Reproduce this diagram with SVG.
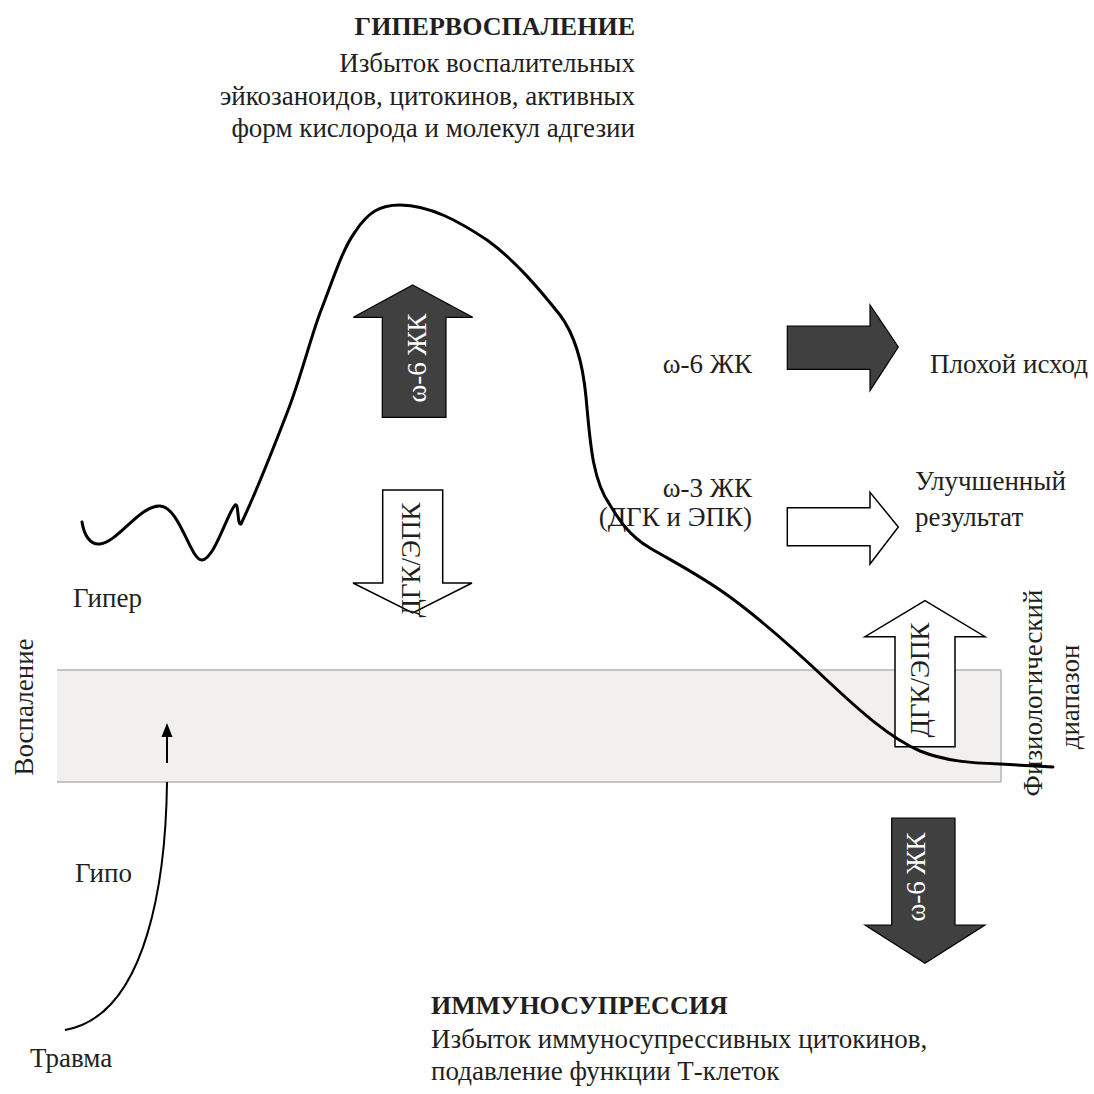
<svg xmlns="http://www.w3.org/2000/svg" width="1094" height="1094" viewBox="0 0 1094 1094">
<style>
.t{font-family:"Liberation Serif","Times New Roman",serif;font-size:27px;fill:#231f20}
.b{font-family:"Liberation Serif","Times New Roman",serif;font-size:26px;font-weight:bold;fill:#231f20}
.w{font-family:"Liberation Serif","Times New Roman",serif;font-size:27px;fill:#ffffff}
.dark{fill:#404040;stroke:#000;stroke-width:1.2}
.light{fill:#ffffff;stroke:#000;stroke-width:1.5}
.curve{fill:none;stroke:#000;stroke-width:3;stroke-linecap:round;stroke-linejoin:round}
.band{stroke:#b5b5b5;stroke-width:1.5}
</style>
<rect width="1094" height="1094" fill="#fff"/>
<g id="band">
<rect x="57" y="670" width="944" height="112" fill="#f1f0ef"/>
<line class="band" x1="57" y1="670" x2="1001" y2="670"/>
<line class="band" x1="57" y1="782" x2="1001" y2="782"/>
<line class="band" x1="1001" y1="670" x2="1001" y2="782"/>
</g>
<g id="title-hyper">
<text class="b" x="635" y="35" text-anchor="end">ГИПЕРВОСПАЛЕНИЕ</text>
<text class="t" x="635" y="72" text-anchor="end">Избыток воспалительных</text>
<text class="t" x="635" y="105" text-anchor="end">эйкозаноидов, цитокинов, активных</text>
<text class="t" x="635" y="137" text-anchor="end">форм кислорода и молекул адгезии</text>
</g>
<g id="title-immuno">
<text class="b" x="431" y="1014">ИММУНОСУПРЕССИЯ</text>
<text class="t" x="431" y="1048">Избыток иммуносупрессивных цитокинов,</text>
<text class="t" x="431" y="1080">подавление функции Т-клеток</text>
</g>
<g id="labels">
<text class="t" x="73" y="607">Гипер</text>
<text class="t" x="75" y="882">Гипо</text>
<text class="t" x="30" y="1067">Травма</text>
<text class="t" transform="translate(33,707) rotate(-90)" text-anchor="middle">Воспаление</text>
<text class="t" transform="translate(1042,693) rotate(-90)" text-anchor="middle">Физиологический</text>
<text class="t" transform="translate(1079,697) rotate(-90)" text-anchor="middle">диапазон</text>
</g>
<g id="omega6-up">
<path class="dark" d="M412.7,285 L472.7,317.3 L446,317.3 L446,417.3 L382.3,417.3 L382.3,317.3 L353.3,317.3 Z"/>
<text class="w" transform="translate(426,358) rotate(-90)" text-anchor="middle">ω-6 ЖК</text>
</g>
<g id="dha-down">
<path class="light" d="M382.7,490 L442.7,490 L442.7,583 L472,583 L412.7,613 L353,583 L382.7,583 Z"/>
<text class="t" transform="translate(420,560) rotate(-90)" text-anchor="middle">ДГК/ЭПК</text>
</g>
<g id="omega6-right">
<text class="t" x="752" y="373" text-anchor="end">ω-6 ЖК</text>
<path class="dark" d="M787.3,326 L870,326 L870,305 L898.3,347 L870,390.7 L870,369.3 L787.3,369.3 Z"/>
<text class="t" x="930" y="373">Плохой исход</text>
</g>
<g id="omega3-right">
<text class="t" x="752" y="497" text-anchor="end">ω-3 ЖК</text>
<text class="t" x="752" y="526" text-anchor="end">(ДГК и ЭПК)</text>
<path class="light" d="M787.3,507.7 L870,507.7 L870,492.3 L898.3,527 L870,564 L870,545.7 L787.3,545.7 Z"/>
<text class="t" x="915" y="490">Улучшенный</text>
<text class="t" x="915" y="526">результат</text>
</g>
<g id="dha-up">
<path class="light" d="M925,600.7 L985,636.7 L955,636.7 L955,746.7 L895,746.7 L895,636.7 L865,636.7 Z"/>
<text class="t" transform="translate(929,680) rotate(-90)" text-anchor="middle">ДГК/ЭПК</text>
</g>
<g id="omega6-down">
<path class="dark" d="M891.7,818 L955,818 L955,925 L985,925 L925,963.3 L865,925 L891.7,925 Z"/>
<text class="w" transform="translate(925,877) rotate(-90)" text-anchor="middle">ω-6 ЖК</text>
</g>
<g id="connectors">
<path class="curve" d="M82,522 C84,535 90,545 100,544 C118,542 140,505 160,506 C180,507 190,560 202,560 C214,560 228,512 235,505 C239,502 237,526 241,524 C250,505 265,470 287,413 C300,380 310,340 320,313 C333,280 342,250 355,232 C368,212 380,205 400,205 C430,205 460,222 487,240 C515,260 540,290 560,315 C575,335 583,365 586,397 C590,440 592,480 610,505 C618,518 628,535 650,548 C672,561 700,575 730,597 C760,619 790,645 830,683 C860,711 890,738 920,751 C945,761 970,763 1000,764 L1053,767"/>
<path d="M167,782 C166,870 150,1015 65,1030" fill="none" stroke="#000" stroke-width="2"/>
<line x1="167" y1="763" x2="167" y2="735" stroke="#000" stroke-width="2"/>
<polygon points="167,723 161.5,737 172.5,737" fill="#000"/>
</g>
</svg>
